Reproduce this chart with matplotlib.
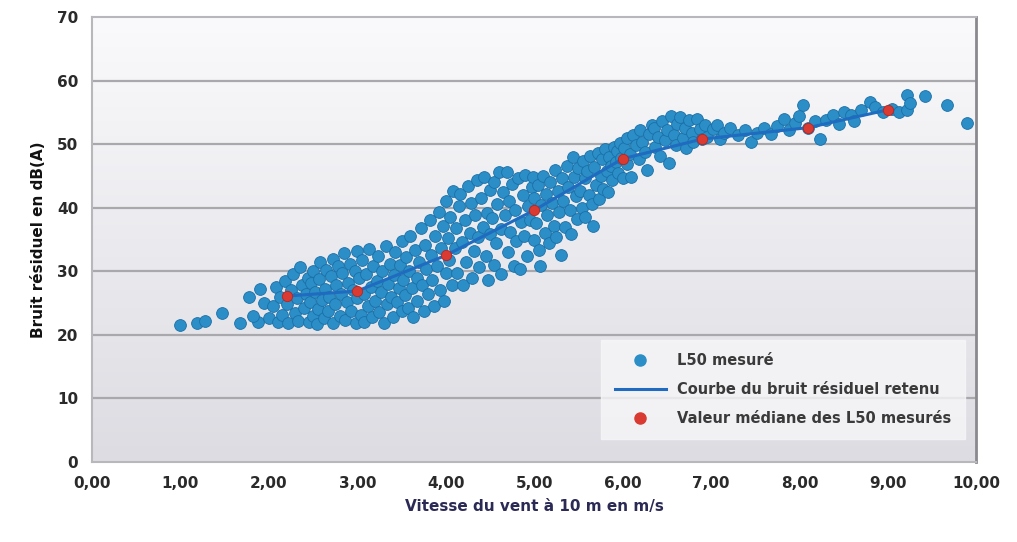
import numpy as np
import matplotlib
matplotlib.use("Agg")
import matplotlib.pyplot as plt
from matplotlib.lines import Line2D

l50_speed = [
    1.00, 1.19, 1.28, 1.47, 1.67, 1.77, 1.90, 1.88, 2.00, 1.95, 1.82,
    2.05, 2.08, 2.10, 2.12, 2.15, 2.18, 2.20, 2.22, 2.25, 2.27, 2.30, 2.32, 2.33, 2.35, 2.37, 2.40, 2.42, 2.44, 2.45, 2.47, 2.48, 2.50, 2.50,
    2.52, 2.54, 2.55, 2.57, 2.58, 2.60, 2.62, 2.63, 2.65, 2.67, 2.68, 2.70, 2.72, 2.73, 2.75, 2.76, 2.78, 2.80, 2.82, 2.83, 2.85, 2.86, 2.88, 2.90, 2.92, 2.93, 2.95, 2.97, 2.98, 3.00, 3.00,
    3.02, 3.04, 3.05, 3.07, 3.08, 3.10, 3.12, 3.13, 3.15, 3.17, 3.18, 3.20, 3.22, 3.23, 3.25, 3.27, 3.28, 3.30, 3.32, 3.33, 3.35, 3.37, 3.38, 3.40, 3.42, 3.43, 3.45, 3.47, 3.48, 3.50, 3.50,
    3.52, 3.54, 3.55, 3.57, 3.58, 3.60, 3.62, 3.63, 3.65, 3.67, 3.68, 3.70, 3.72, 3.73, 3.75, 3.77, 3.78, 3.80, 3.82, 3.83, 3.85, 3.87, 3.88, 3.90, 3.92, 3.93, 3.95, 3.97, 3.98, 4.00, 4.00,
    4.02, 4.04, 4.05, 4.07, 4.08, 4.10, 4.12, 4.13, 4.15, 4.16, 4.18, 4.20, 4.22, 4.23, 4.25, 4.27, 4.28, 4.30, 4.32, 4.33, 4.35, 4.37, 4.38, 4.40, 4.42, 4.43, 4.45, 4.47, 4.48, 4.50, 4.50,
    4.52, 4.54, 4.55, 4.57, 4.58, 4.60, 4.62, 4.63, 4.65, 4.67, 4.69, 4.70, 4.72, 4.73, 4.75, 4.77, 4.78, 4.80, 4.82, 4.84, 4.85, 4.87, 4.88, 4.90, 4.92, 4.93, 4.95, 4.97, 4.99, 5.00, 5.00,
    5.02, 5.04, 5.05, 5.07, 5.08, 5.10, 5.12, 5.13, 5.15, 5.17, 5.18, 5.20, 5.22, 5.23, 5.25, 5.27, 5.28, 5.30, 5.32, 5.33, 5.35, 5.37, 5.38, 5.40, 5.42, 5.44, 5.45, 5.47, 5.48, 5.50,
    5.52, 5.54, 5.55, 5.57, 5.58, 5.60, 5.62, 5.63, 5.65, 5.67, 5.68, 5.70, 5.72, 5.73, 5.75, 5.77, 5.78, 5.80, 5.82, 5.83, 5.85, 5.87, 5.88, 5.90, 5.92, 5.94, 5.95, 5.97, 5.98, 6.00,
    6.02, 6.05, 6.05, 6.08, 6.10, 6.12, 6.15, 6.18, 6.20, 6.22, 6.25, 6.28, 6.30, 6.33, 6.35, 6.37, 6.40, 6.42, 6.45, 6.48, 6.50, 6.52, 6.55, 6.58, 6.60, 6.62, 6.65, 6.68, 6.70, 6.72, 6.75, 6.78, 6.80, 6.84, 6.87, 6.90, 6.93, 6.96,
    7.02, 7.07, 7.10, 7.15, 7.22, 7.30, 7.38, 7.45, 7.52, 7.60, 7.68, 7.75, 7.82, 7.88, 7.95, 8.04, 8.00, 8.10, 8.18, 8.23, 8.30, 8.38, 8.45, 8.50, 8.58, 8.62, 8.70, 8.80, 8.85, 8.95, 9.05, 9.12, 9.22, 9.22, 9.25, 9.42, 9.67, 9.90,
]
l50_level = [
    21.6, 21.9, 22.2, 23.4, 21.8, 26.0, 27.2, 22.0, 22.6, 25.0, 23.0,
    24.5, 27.5, 22.0, 26.0, 23.2, 28.5, 24.8, 21.8, 27.0, 29.5, 23.5, 25.8, 22.2, 30.6, 27.9, 24.2, 26.5, 29.0, 22.0, 25.2, 28.2, 23.0, 30.0,
    26.8, 21.7, 24.0, 28.8, 31.5, 25.5, 22.6, 27.2, 30.2, 23.8, 26.0, 29.2, 21.9, 32.0, 24.8, 27.8, 30.8, 23.0, 26.5, 29.8, 32.9, 22.4, 25.2, 28.2, 31.2, 23.8, 27.0, 30.0, 21.8, 25.8, 33.2,
    28.9, 23.2, 31.8, 26.4, 22.0, 29.6, 24.6, 33.5, 27.6, 22.8, 30.8, 25.4, 28.4, 32.4, 23.6, 26.8, 30.0, 21.9, 34.0, 24.8, 28.0, 31.2, 26.0, 22.8, 29.4, 33.0, 25.2, 27.4, 31.0, 23.8, 34.8,
    28.6, 26.2, 32.2, 24.2, 30.0, 35.6, 27.4, 22.8, 33.4, 29.0, 25.4, 31.4, 36.8, 27.8, 23.8, 34.2, 30.4, 26.4, 38.0, 32.6, 28.6, 24.6, 35.6, 30.8, 39.4, 27.0, 33.6, 37.2, 25.4, 29.8, 41.0,
    35.2, 31.8, 38.6, 27.8, 42.6, 33.6, 36.8, 29.8, 40.2, 42.2, 34.6, 27.8, 38.0, 31.4, 43.4, 36.0, 40.8, 29.0, 33.2, 38.8, 44.4, 35.4, 30.6, 41.6, 37.0, 44.9, 32.4, 39.2, 28.6, 35.8, 42.8,
    38.4, 31.0, 44.0, 34.4, 40.6, 45.6, 36.6, 29.6, 42.4, 38.8, 45.6, 33.0, 41.0, 36.2, 43.8, 30.8, 39.6, 34.8, 44.6, 30.3, 37.8, 42.0, 35.6, 45.2, 32.4, 40.2, 38.0, 43.2, 44.9, 35.0, 41.6,
    37.6, 43.6, 33.4, 30.9, 40.4, 45.0, 36.0, 42.2, 38.8, 34.4, 44.0, 40.8, 37.2, 46.0, 35.4, 42.6, 39.4, 32.5, 44.6, 41.0, 37.0, 46.6, 43.2, 39.6, 35.8, 48.0, 44.8, 41.8, 38.2, 46.2,
    42.6, 40.0, 47.4, 44.6, 38.6, 45.8, 42.0, 48.2, 40.6, 37.1, 46.4, 43.6, 48.6, 41.4, 45.0, 47.6, 43.0, 49.2, 45.8, 42.4, 48.0, 46.6, 44.4, 49.6, 47.2, 49.0, 45.4, 50.2, 47.8, 44.6,
    49.4, 46.8, 51.0, 48.4, 44.8, 51.5, 49.8, 47.6, 52.2, 50.4, 48.8, 46.0, 51.6, 53.0, 52.6, 49.6, 51.2, 48.2, 53.6, 50.6, 52.2, 47.0, 54.4, 51.4, 49.8, 53.2, 54.2, 51.0, 52.6, 49.4, 53.8, 51.8, 50.4, 53.9, 52.4, 50.8, 53.0, 51.2,
    52.4, 53.0, 50.8, 51.8, 52.6, 51.4, 52.2, 50.3, 51.8, 52.6, 51.6, 52.8, 53.9, 52.2, 53.4, 56.2, 54.4, 52.6, 53.6, 50.8, 53.8, 54.6, 53.2, 55.1, 54.6, 53.6, 55.4, 56.7, 55.8, 55.0, 55.6, 55.0, 57.8, 55.4, 56.4, 57.5, 56.2, 53.4,
]

# Median L50 per wind speed class (red points, joined by the retained curve)
median_speed = [2.2, 3.0, 4.0, 5.0, 6.0, 6.9, 8.1, 9.0]
median_level = [26.1, 26.9, 32.5, 39.6, 47.7, 50.8, 52.6, 55.4]

x_ticks = [0, 1, 2, 3, 4, 5, 6, 7, 8, 9, 10]
y_ticks = [0, 10, 20, 30, 40, 50, 60, 70]

fig = plt.figure(figsize=(10.17, 5.42), dpi=100)
ax = fig.add_axes([0.0905, 0.1476, 0.8695, 0.821])

# light grey gradient behind the plot area, whiter towards the top
grad = np.linspace(0, 1, 256).reshape(-1, 1)
ax.imshow(grad, extent=[0, 1, 0, 1], transform=ax.transAxes, aspect="auto",
          cmap=matplotlib.colors.LinearSegmentedColormap.from_list("bg", ["#fafafc", "#dcdce2"]),
          zorder=0)

for yv in y_ticks[1:-1]:
    ax.axhline(yv, color="#a9a9ad", lw=1.6, zorder=1)

ax.scatter(l50_speed, l50_level, s=72, color="#2b8ec6", edgecolors="#1b6fa8",
           linewidths=0.6, zorder=3)
ax.plot(median_speed, median_level, color="#1f6bc0", lw=2.2, zorder=4)
ax.scatter(median_speed, median_level, s=55, color="#d93a32", edgecolors="#b8241e",
           linewidths=0.6, zorder=5)

ax.set_xlim(0, 10)
ax.set_ylim(0, 70)
ax.set_xticks(x_ticks)
ax.set_xticklabels([f"{v:.2f}".replace(".", ",") for v in x_ticks])
ax.set_yticks(y_ticks)
ax.tick_params(length=0, labelsize=11, colors="#2a2a2a", pad=10)
for lab in ax.get_xticklabels() + ax.get_yticklabels():
    lab.set_fontweight("bold")

for side in ["left", "bottom", "top"]:
    ax.spines[side].set_color("#b8b8bc")
    ax.spines[side].set_linewidth(1.5)
ax.spines["right"].set_color("#8a8a8e")
ax.spines["right"].set_linewidth(2)

ax.set_xlabel("Vitesse du vent à 10 m en m/s", fontsize=11, fontweight="bold",
              color="#2a2a55", labelpad=6)
ax.set_ylabel("Bruit résiduel en dB(A)", fontsize=11, fontweight="bold",
              color="#111111", labelpad=8)

handles = [
    Line2D([], [], marker="o", ls="", color="#2b8ec6", markersize=8),
    Line2D([], [], color="#1f6bc0", lw=2.2),
    Line2D([], [], marker="o", ls="", color="#d93a32", markersize=8),
]
labels = ["L50 mesuré", "Courbe du bruit résiduel retenu", "Valeur médiane des L50 mesurés"]
leg = ax.legend(handles, labels, loc="lower right", bbox_to_anchor=(0.995, 0.035),
                handlelength=3.5, frameon=True, fancybox=False,
                borderpad=0.9, labelspacing=0.95, prop={"weight": "bold", "size": 10.5})
leg.get_frame().set_facecolor("#f7f7f9")
leg.get_frame().set_edgecolor("#f7f7f9")
for t in leg.get_texts():
    t.set_color("#3a3a3a")

fig.savefig("out.png", dpi=100)
